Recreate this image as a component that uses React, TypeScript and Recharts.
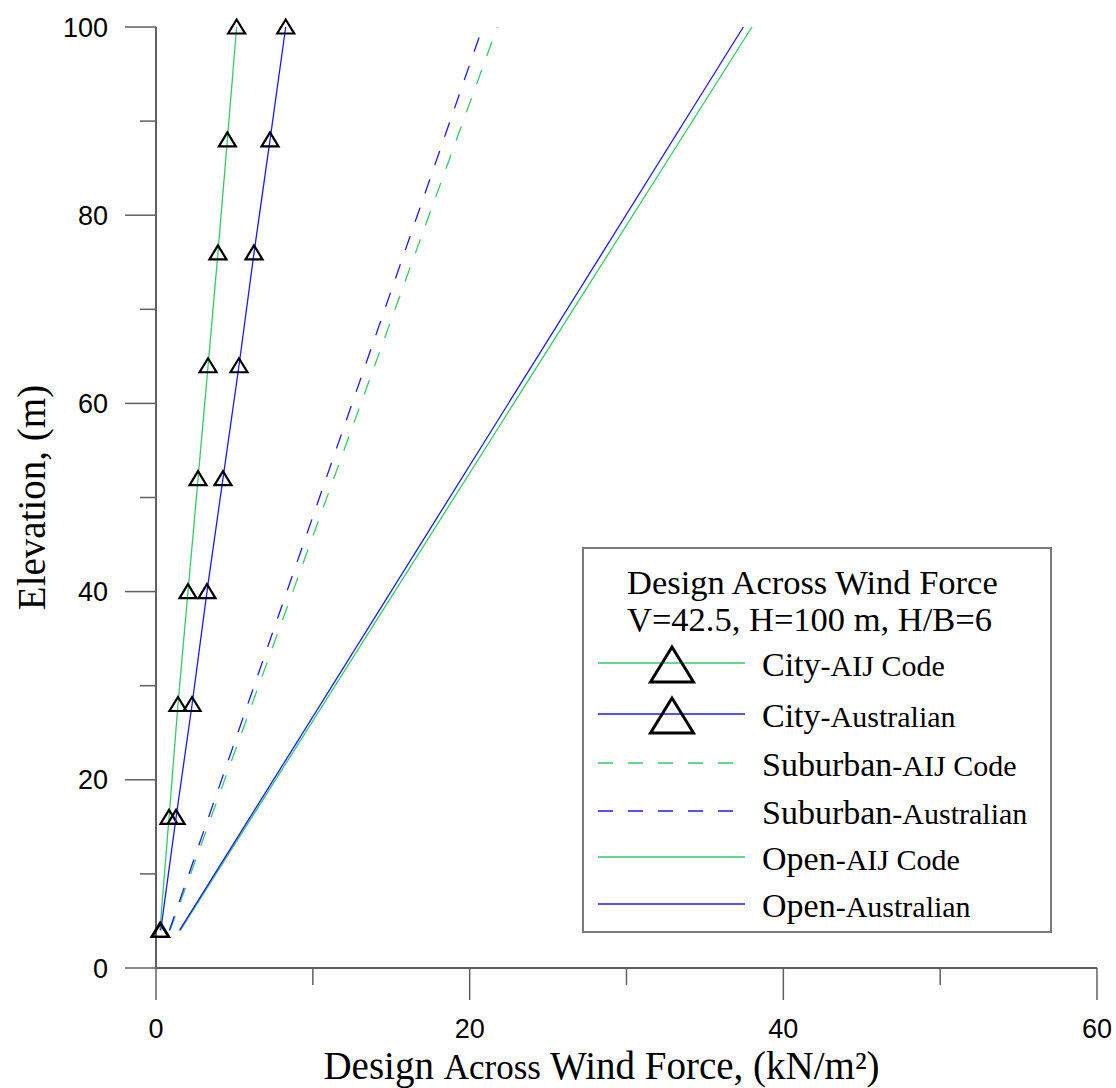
import React from 'react';
import { ScatterChart, Scatter, XAxis, YAxis, Legend } from 'recharts';

// Elevations where the city profiles were evaluated (m)
const elevations = [4, 16, 28, 40, 52, 64, 76, 88, 100];
const cityAij = [0.25, 0.83, 1.4, 2.04, 2.68, 3.32, 3.95, 4.55, 5.14];
const cityAus = [0.3, 1.28, 2.3, 3.25, 4.27, 5.29, 6.25, 7.27, 8.27];

// Suburban and open terrain profiles are straight, given by their end points
const lineElevations = [4, 100];
const suburbanAij = [0.9, 21.76];
const suburbanAus = [0.85, 20.83];
const openAij = [1.55, 38.0];
const openAus = [1.5, 37.45];

const xTicks = [0, 10, 20, 30, 40, 50, 60];
const yTicks = [0, 10, 20, 30, 40, 50, 60, 70, 80, 90, 100];

const GREEN = '#33cc66';
const BLUE = '#1a1aff';
const AXIS = '#606060';
const SERIF = '"Liberation Serif", "Times New Roman", serif';
const SANS = '"Liberation Sans", Arial, sans-serif';

const toPoints = (xs: number[], ys: number[]) => xs.map((x, i) => ({ x, y: ys[i] }));

const series = [
  { name: 'City', suffix: '-AIJ Code', color: GREEN, dash: undefined, marker: true, data: toPoints(cityAij, elevations) },
  { name: 'City', suffix: '-Australian', color: BLUE, dash: undefined, marker: true, data: toPoints(cityAus, elevations) },
  { name: 'Suburban', suffix: '-AIJ Code', color: GREEN, dash: '15 15', marker: false, data: toPoints(suburbanAij, lineElevations) },
  { name: 'Suburban', suffix: '-Australian', color: BLUE, dash: '15 15', marker: false, data: toPoints(suburbanAus, lineElevations) },
  { name: 'Open', suffix: '-AIJ Code', color: GREEN, dash: undefined, marker: false, data: toPoints(openAij, lineElevations) },
  { name: 'Open', suffix: '-Australian', color: BLUE, dash: undefined, marker: false, data: toPoints(openAus, lineElevations) },
];

const Triangle = (props: any) => {
  const { cx, cy } = props;
  if (cx == null || cy == null) return <g />;
  return (
    <polygon
      points={`${cx},${cy - 7.5} ${cx - 8.5},${cy + 6.5} ${cx + 8.5},${cy + 6.5}`}
      fill="none"
      stroke="#000"
      strokeWidth={2.2}
    />
  );
};

const NoMarker = () => <g />;

const XTick = ({ x, y, payload }: any) => {
  const major = payload.value % 20 === 0;
  return (
    <g>
      <line x1={x} y1={y} x2={x} y2={y + (major ? 32 : 17)} stroke={AXIS} strokeWidth={1.5} />
      {major && (
        <text x={x} y={y + 70} textAnchor="middle" fontFamily={SANS} fontSize={27} fill="#000">
          {payload.value}
        </text>
      )}
    </g>
  );
};

const YTick = ({ x, y, payload }: any) => {
  const major = payload.value % 20 === 0;
  return (
    <g>
      <line x1={x} y1={y} x2={x - (major ? 31 : 16)} y2={y} stroke={AXIS} strokeWidth={1.5} />
      {major && (
        <text x={x - 48} y={y + 9.5} textAnchor="end" fontFamily={SANS} fontSize={27} fill="#000">
          {payload.value}
        </text>
      )}
    </g>
  );
};

const XTitle = ({ viewBox }: any) => (
  <text x={viewBox.x + viewBox.width / 2 - 25} y={1079} textAnchor="middle" fontFamily={SERIF} fontSize={39} fill="#000">
    Design <tspan fontSize={35}>Across</tspan> Wind Force, (kN/m²)
  </text>
);

const YTitle = ({ viewBox }: any) => {
  const cy = viewBox.y + viewBox.height / 2;
  return (
    <text x={31} y={cy} transform={`rotate(-90, 31, ${cy})`} textAnchor="middle" dominantBaseline="central" fontFamily={SERIF} fontSize={39} fill="#000">
      Elevation, (m)
    </text>
  );
};

const LEGEND_W = 470;
const LEGEND_H = 386;
const ROW_Y = [116, 167, 216, 264, 310, 357];

const renderLegend = () => (
  <div style={{ width: LEGEND_W, height: LEGEND_H, border: '2px solid #7a7a7a', background: '#fff', boxSizing: 'border-box' }}>
    <svg width={LEGEND_W - 4} height={LEGEND_H - 4} style={{ display: 'block' }}>
      <text x={43} y={45} fontFamily={SERIF} fontSize={34.5} fill="#000">Design Across Wind Force</text>
      <text x={43} y={82} fontFamily={SERIF} fontSize={34.5} fill="#000">V=42.5, H=100 m, H/B=6</text>
      {series.map((s, i) => {
        const ly = ROW_Y[i] - 2;
        return (
          <g key={i}>
            <line x1={14} y1={ly} x2={161} y2={ly} stroke={s.color} strokeWidth={1.3} strokeDasharray={s.dash} />
            {s.marker && (
              <polygon points={`88,${ly - 16} 66.5,${ly + 19} 109.5,${ly + 19}`} fill="none" stroke="#000" strokeWidth={3} />
            )}
            <text x={178} y={ly + 13} fontFamily={SERIF} fontSize={34} fill="#000">
              {s.name}
              <tspan fontSize={30}>{s.suffix}</tspan>
            </text>
          </g>
        );
      })}
    </svg>
  </div>
);

export default function App() {
  return (
    <div style={{ position: 'absolute', left: 0, top: 0, background: '#fff' }}>
      <ScatterChart width={1116} height={1088} margin={{ top: 27, right: 19, left: 96, bottom: 60 }}>
        <XAxis
          type="number"
          dataKey="x"
          domain={[0, 60]}
          ticks={xTicks}
          interval={0}
          height={60}
          tickSize={0}
          tickMargin={0}
          tickLine={false}
          tick={<XTick />}
          axisLine={{ stroke: AXIS, strokeWidth: 2 }}
          label={<XTitle />}
        />
        <YAxis
          type="number"
          dataKey="y"
          domain={[0, 100]}
          ticks={yTicks}
          interval={0}
          width={60}
          tickSize={0}
          tickMargin={0}
          tickLine={false}
          tick={<YTick />}
          axisLine={{ stroke: AXIS, strokeWidth: 2 }}
          label={<YTitle />}
        />
        {series.map((s, i) => (
          <Scatter
            key={i}
            name={s.name + s.suffix}
            data={s.data}
            fill={s.color}
            line={{ stroke: s.color, strokeWidth: 1.3, strokeDasharray: s.dash }}
            lineType="joint"
            shape={s.marker ? <Triangle /> : <NoMarker />}
            isAnimationActive={false}
          />
        ))}
        <Legend
          layout="vertical"
          align="center"
          verticalAlign="middle"
          wrapperStyle={{ left: 582, top: 547, width: LEGEND_W, height: LEGEND_H }}
          content={renderLegend}
        />
      </ScatterChart>
    </div>
  );
}
